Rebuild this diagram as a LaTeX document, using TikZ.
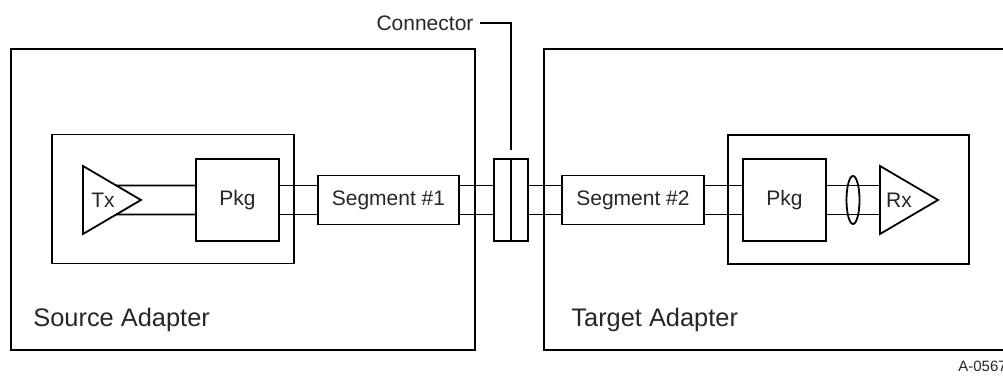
\documentclass[tikz,border=0pt]{standalone}
\usepackage{fontspec}
\setmainfont{Liberation Sans}
\usetikzlibrary{
  positioning,
  calc,
  shapes.geometric,
}

\begin{document}
\begin{tikzpicture}[
  x=0.5pt, y=-0.5pt,
  font=\fontsize{10.5}{12}\selectfont,
  every node/.style={align=center, text=black!85},
  wire/.style={black, line width=0.9pt},
  box/.style={draw=black, line width=0.9pt, rectangle, inner sep=0pt},
  adlbl/.style={anchor=west, inner sep=0pt, font=\fontsize{12.7}{14}\selectfont},
]

\useasboundingbox (0,0) rectangle (1003,378);

%% adapters
\node[box, minimum width=232pt, minimum height=150.5pt] (src) at (243,199.5) {};
\node[box, minimum width=234pt, minimum height=150.5pt] (tgt) at (778,199.5) {};
\node[box, minimum width=121pt, minimum height=64.5pt] (srcin) at (173,199) {};
\node[box, minimum width=120.5pt, minimum height=64.5pt] (tgtin) at (848.5,199.5) {};

\node[adlbl] (srclbl) at (33,320) {Source Adapter};
\node[adlbl] (tgtlbl) at (571,320) {Target Adapter};

%% boxes on the link
\node[box, minimum width=41.5pt, minimum height=41pt] (pkgL) at (237.5,200) {Pkg};
\node[box, minimum width=70.5pt, minimum height=24.5pt] (seg1) at (388.5,200) {Segment \#1};
\node[box, minimum width=17pt, minimum height=41pt] (conn) at (511,200) {};
\node[box, minimum width=71pt, minimum height=24.5pt] (seg2) at (633,200) {Segment \#2};
\node[box, minimum width=41.5pt, minimum height=41pt] (pkgR) at (784.5,200) {Pkg};
\draw[wire] (conn.north) -- (conn.south);

%% Tx
\coordinate (txT) at (83,166);
\coordinate (txB) at (83,234);
\coordinate (txP) at (141,200);
\draw[wire, line join=miter] (txT) -- (txP) -- (txB) -- cycle;
\node (txlbl) at (103,200) {Tx};
\coordinate (txU) at ($(txT)!0.574!(txP)$);
\coordinate (txD) at ($(txB)!0.574!(txP)$);

%% Rx
\coordinate (rxT) at (880,166);
\coordinate (rxB) at (880,234);
\coordinate (rxP) at (938,200);
\coordinate (rxL) at (880,200);
\draw[wire, line join=miter] (rxT) -- (rxP) -- (rxB) -- cycle;
\node (rxlbl) at (899,200) {Rx};

%% wires
\draw[wire] (txU) -- ([yshift=7.25pt]pkgL.west);
\draw[wire] (txD) -- ([yshift=-7.25pt]pkgL.west);
\foreach \dy in {-7.25pt,7.25pt}{
  \draw[wire] ([yshift=\dy]pkgL.east) -- ([yshift=\dy]seg1.west);
  \draw[wire] ([yshift=\dy]seg1.east) -- ([yshift=\dy]conn.west);
  \draw[wire] ([yshift=\dy]conn.east) -- ([yshift=\dy]seg2.west);
  \draw[wire] ([yshift=\dy]seg2.east) -- ([yshift=\dy]pkgR.west);
  \draw[wire] ([yshift=\dy]pkgR.east) -- ([yshift=\dy]rxL);
}

\node[ellipse, draw=black, line width=0.9pt, fill=none, inner sep=0pt,
  minimum width=6.5pt, minimum height=24pt] (pair) at (853,200) {};

%% connector callout
\node[inner sep=3pt] (connlbl) at (425,23) {Connector};
\draw[wire] (connlbl.east) -| ([yshift=4pt]conn.north);

\node[anchor=west, inner sep=0pt, font=\fontsize{7.5}{9}\selectfont] (figid) at (958,366) {A-0567};

\end{tikzpicture}
\end{document}
